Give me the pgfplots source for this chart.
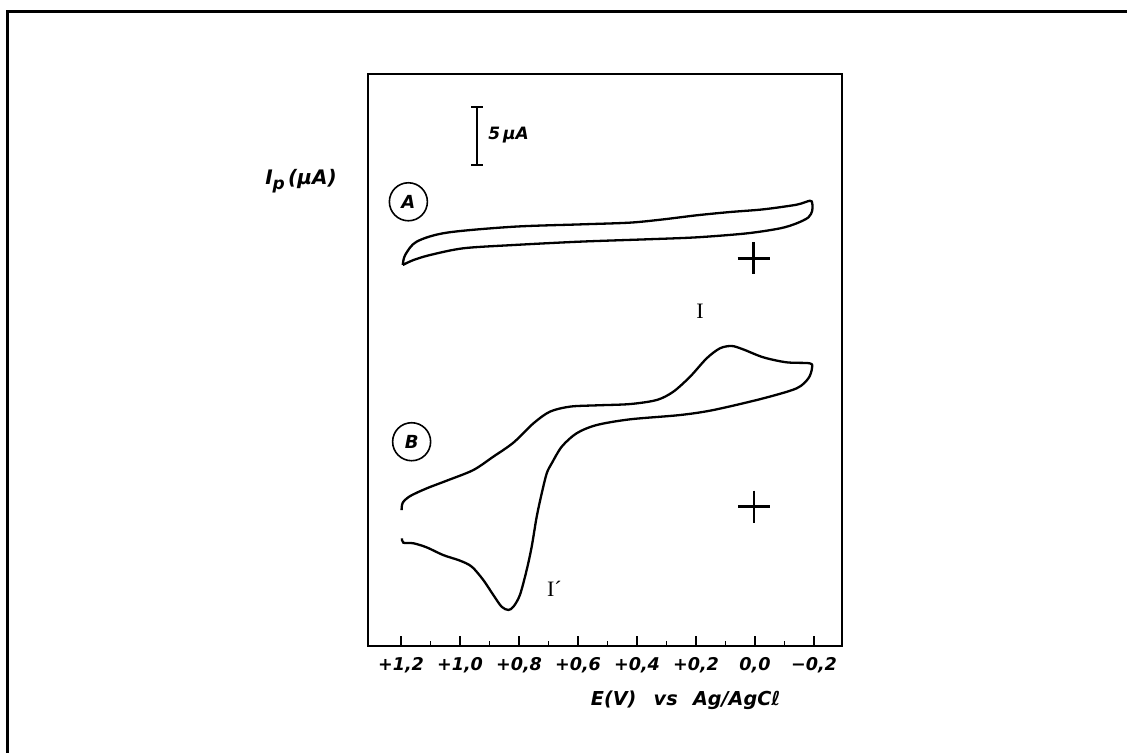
\documentclass[border=0pt]{standalone}
\usepackage{fontspec}
\setmainfont{Liberation Serif}
\newfontfamily\lettering{DejaVu Sans}
\usepackage{pgfplots}
\pgfplotsset{compat=1.18}
\begin{document}
\begin{tikzpicture}
\useasboundingbox (0,0) rectangle (563.5pt,376.5pt);
\draw[line width=1.5pt] (3.5pt,0) -- (3.5pt,370.5pt) -- (563.5pt,370.5pt);
\begin{axis}[
  at={(184pt,53.5pt)}, anchor=south west,
  scale only axis, width=237pt, height=286pt,
  x dir=reverse, xmin=-0.2949, xmax=1.3119, ymin=0, ymax=49.06,
  clip=false,
  axis line style={line width=1.1pt},
  xtick={1.2,1.0,0.8,0.6,0.4,0.2,0.0,-0.2},
  xticklabels={{+1,2},{+1,0},{+0,8},{+0,6},{+0,4},{+0,2},{0,0},{−0,2}},
  minor xtick={1.1,0.9,0.7,0.5,0.3,0.1,-0.1},
  ytick=\empty,
  xtick pos=bottom, tick align=inside,
  major tick length=5pt, minor tick length=2.4pt,
  every tick/.style={line width=0.9pt, black},
  xticklabel style={font=\lettering\bfseries\itshape\fontsize{8.8}{9}\selectfont, yshift=-2pt},
]
% Curve A
\addplot[smooth, tension=0.5, line width=1.15pt] coordinates {
(1.194,32.68) (1.186,33.53) (1.147,34.68) (1.045,35.45) (0.819,35.96)
(0.593,36.16) (0.424,36.31) (0.311,36.59) (0.198,36.94) (0.085,37.22)
(-0.028,37.45) (-0.141,37.85) (-0.186,38.19) (-0.194,37.96) (-0.194,37.34)
(-0.181,36.76) (-0.141,36.25) (-0.085,35.82) (0.028,35.39) (0.198,35.05)
(0.367,34.88) (0.593,34.68) (0.819,34.39) (0.989,34.11) (1.102,33.53)
(1.158,33.10) (1.194,32.68)
};
% Curve B
\addplot[smooth, tension=0.5, line width=1.15pt] coordinates {
(1.198,11.66) (1.194,12.29) (1.169,12.86) (1.113,13.52) (1.045,14.18)
(0.955,15.09) (0.887,16.24) (0.819,17.44) (0.751,19.10) (0.695,20.10)
(0.627,20.53) (0.537,20.64) (0.424,20.75) (0.333,21.10) (0.277,21.81)
(0.220,23.10) (0.164,24.67) (0.119,25.53) (0.079,25.73) (0.040,25.44)
(-0.028,24.76) (-0.107,24.33) (-0.186,24.24) (-0.193,23.81) (-0.181,22.96)
(-0.141,22.10) (-0.028,21.24) (0.141,20.24) (0.254,19.81) (0.424,19.44)
(0.537,18.95) (0.605,18.24) (0.655,17.10) (0.689,15.67) (0.706,14.81)
(0.723,13.09) (0.740,11.09) (0.757,8.52) (0.774,6.52) (0.797,4.37)
(0.819,3.37) (0.836,3.09) (0.859,3.37) (0.887,4.37) (0.921,5.66)
(0.960,6.80) (1.000,7.32) (1.057,7.80) (1.113,8.46) (1.158,8.81)
(1.192,8.86) (1.197,9.23)
};
% zero-current crosses
\addplot[only marks, mark=+, mark size=8pt, mark options={line width=1.3pt}] coordinates {(0.005,33.25) (0.003,11.95)};
% 5 uA scale bar
\addplot[line width=0.9pt, mark=-, mark size=3pt] coordinates {(0.943,41.25) (0.943,46.25)};
\node[anchor=west, inner sep=0pt, font=\lettering\bfseries\itshape\fontsize{8.5}{9}\selectfont] at (axis cs:0.905,43.8) {5\,µA};
% circled labels
\node[draw, circle, minimum size=19pt, inner sep=0pt, line width=0.8pt, font=\lettering\bfseries\itshape\fontsize{9}{9}\selectfont] at (axis cs:1.175,38.1) {A};
\node[draw, circle, minimum size=19pt, inner sep=0pt, line width=0.8pt, font=\lettering\bfseries\itshape\fontsize{9}{9}\selectfont] at (axis cs:1.164,17.52) {B};
% peak labels
\node[font=\fontsize{11}{12}\selectfont] at (axis cs:0.186,28.73) {I};
\node[font=\fontsize{11}{12}\selectfont] at (axis cs:0.680,4.89) {I´};
% axis labels
\node[font=\lettering\bfseries\itshape\fontsize{9.6}{10}\selectfont] at (axis cs:0.235,-4.65) {E(V)\hspace{0.9em}vs\hspace{0.8em}Ag/AgCℓ};
\node[font=\lettering\bfseries\itshape\fontsize{10}{10}\selectfont] at (axis cs:1.539,39.9) {I\raisebox{-0.45ex}{\fontsize{8.5}{9}\selectfont p}\,(µA)};
\end{axis}
\end{tikzpicture}
\end{document}
